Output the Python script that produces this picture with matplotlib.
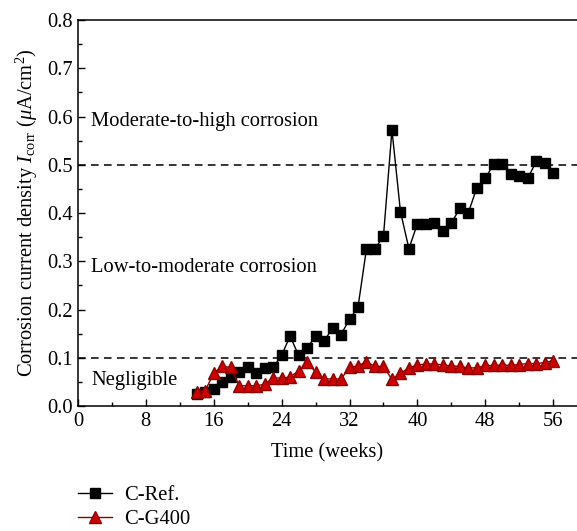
import matplotlib
matplotlib.use("Agg")
import matplotlib.pyplot as plt
from matplotlib.ticker import MultipleLocator, FormatStrFormatter

weeks = list(range(14, 57))
c_ref = [0.025, 0.028, 0.035, 0.050, 0.060, 0.070, 0.080, 0.068, 0.078, 0.080,
         0.105, 0.145, 0.105, 0.120, 0.145, 0.134, 0.162, 0.148, 0.180, 0.205,
         0.326, 0.326, 0.352, 0.572, 0.403, 0.326, 0.378, 0.378, 0.380, 0.362,
         0.379, 0.410, 0.401, 0.452, 0.472, 0.502, 0.502, 0.481, 0.476, 0.472,
         0.507, 0.503, 0.483]
c_g400 = [0.030, 0.032, 0.068, 0.082, 0.080, 0.042, 0.042, 0.042, 0.045, 0.058,
          0.058, 0.060, 0.073, 0.091, 0.070, 0.056, 0.056, 0.056, 0.080, 0.083,
          0.092, 0.082, 0.082, 0.055, 0.068, 0.079, 0.085, 0.087, 0.087, 0.085,
          0.083, 0.082, 0.079, 0.079, 0.084, 0.084, 0.085, 0.084, 0.086, 0.088,
          0.088, 0.090, 0.094]
thresholds = [0.5, 0.1]
zone_labels = ["Moderate-to-high corrosion", "Low-to-moderate corrosion", "Negligible"]
zone_label_y = [0.589, 0.287, 0.053]
series_names = ["C-Ref.", "C-G400"]

plt.rcParams['font.family'] = ['Liberation Serif', 'DejaVu Serif']
plt.rcParams['mathtext.fontset'] = 'custom'
plt.rcParams['mathtext.rm'] = 'Liberation Serif'
plt.rcParams['mathtext.it'] = 'Liberation Serif:italic'

FS = 14.8

fig = plt.figure(figsize=(5.77, 5.31), dpi=100)
ax = fig.add_axes([0.135, 0.2354, 0.865, 0.7269])

l1, = ax.plot(weeks, c_ref, color='black', lw=1.0, marker='s', ms=7.4,
              mfc='black', mec='black', zorder=3)
l2, = ax.plot(weeks, c_g400, color='#8B0000', lw=1.0, marker='^', ms=8.0,
              mfc='#CC0000', mec='#900000', zorder=4)

for t in thresholds:
    ax.axhline(t, color='black', lw=1.1, ls=(0, (5, 3.5)), zorder=2)

for lab, yv in zip(zone_labels, zone_label_y):
    ax.text(1.6, yv, lab, fontsize=FS, va='center', ha='left')

ax.set_xlim(0, 58.8)
ax.set_ylim(0, 0.8)
ax.xaxis.set_major_locator(MultipleLocator(8))
ax.xaxis.set_minor_locator(MultipleLocator(4))
ax.yaxis.set_major_locator(MultipleLocator(0.1))
ax.yaxis.set_minor_locator(MultipleLocator(0.05))
ax.yaxis.set_major_formatter(FormatStrFormatter('%.1f'))
ax.tick_params(which='both', direction='in', labelsize=FS)
ax.tick_params(which='major', length=5, width=1)
ax.tick_params(which='minor', length=3, width=1)
ax.tick_params(top=False, right=False)
ax.tick_params(axis='x', pad=4)
ax.spines['right'].set_visible(False)
for s in ['left', 'bottom', 'top']:
    ax.spines[s].set_linewidth(1.1)

ax.set_xlabel('Time (weeks)', fontsize=FS, labelpad=9)
ax.set_ylabel(r'Corrosion current density $I_{\mathrm{corr}}$ ($\mu$A/cm$^2$)',
              fontsize=FS, labelpad=5)

fig.legend([l1, l2], series_names, loc='upper left', bbox_to_anchor=(0.118, 0.104),
           frameon=False, fontsize=FS, handlelength=1.65, labelspacing=0.2,
           borderpad=0, handletextpad=0.6)

fig.savefig('out.png', dpi=100)
